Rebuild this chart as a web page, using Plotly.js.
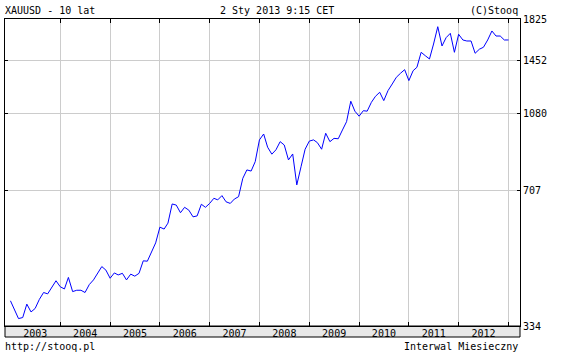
<!DOCTYPE html>
<html>
<head>
<meta charset="utf-8">
<script src="https://cdn.plot.ly/plotly-3.0.1.min.js"></script>
<style>
html,body{margin:0;padding:0;background:#fff;}
#chart{width:568px;height:354px;}
</style>
</head>
<body>
<div id="chart"></div>
<script>
// Monthly closes of XAUUSD (Jan..Dec per year)
const years = ['2003','2004','2005','2006','2007','2008','2009','2010','2011','2012'];
const close2003 = [384, 365, 348, 350, 377, 361, 368, 387, 402, 399, 415, 429];
const close2004 = [415, 410, 437, 404, 407, 407, 402, 420, 431, 448, 464, 455];
const close2005 = [435, 448, 443, 447, 431, 445, 440, 447, 479, 478, 504, 529];
const close2006 = [577, 571, 590, 656, 652, 625, 644, 634, 611, 614, 655, 644];
const close2007 = [658, 677, 671, 687, 664, 658, 674, 683, 756, 792, 787, 829];
const close2008 = [935, 966, 898, 864, 885, 926, 909, 837, 865, 729, 806, 888];
const close2009 = [929, 935, 921, 888, 970, 926, 943, 941, 988, 1034, 1158, 1096];
const close2010 = [1066, 1099, 1096, 1151, 1190, 1217, 1162, 1228, 1274, 1322, 1352, 1379];
const close2011 = [1298, 1371, 1397, 1518, 1490, 1463, 1589, 1749, 1572, 1646, 1686, 1518];
const close2012 = [1677, 1625, 1616, 1616, 1510, 1544, 1561, 1625, 1708, 1661, 1661, 1625];
const close2013 = [1625];
const yTicks = [334, 707, 1080, 1452, 1825];
const yTickText = ['334', '707', '1080', '1452', '1825'];

const byYear = [close2003, close2004, close2005, close2006, close2007, close2008,
                close2009, close2010, close2011, close2012, close2013];
const xs = [], ys = [];
byYear.forEach((arr, k) => {
  const yr = 2003 + k;
  arr.forEach((v, m) => {
    xs.push(yr + '-' + String(m + 1).padStart(2, '0') + '-01');
    ys.push(v);
  });
});

const labelVals = years.map(y => y + '-07-02');
const gridVals = years.map(y => (parseInt(y) + 1) + '-01-01');

const FONT = {family: 'DejaVu Sans Mono, monospace', size: 10, color: '#000'};

const trace = {
  x: xs, y: ys, type: 'scatter', mode: 'lines',
  line: {color: '#0000ff', width: 1},
  hoverinfo: 'skip'
};

const layout = {
  width: 568, height: 354,
  margin: {l: 5, r: 48, t: 19, b: 28, pad: 0},
  paper_bgcolor: '#fff', plot_bgcolor: '#fff',
  showlegend: false,
  font: FONT,
  xaxis: {
    type: 'date',
    range: ['2002-11-22', '2013-03-26'],
    tickmode: 'array', tickvals: labelVals, ticktext: years,
    ticks: '', showgrid: false,
    showline: true, linecolor: '#000', linewidth: 1, mirror: 'ticks',
    tickfont: FONT, ticklabelstandoff: -2,
    zeroline: false, fixedrange: true,
    minor: {
      tickmode: 'array', tickvals: gridVals,
      showgrid: true, gridcolor: '#cccccc', gridwidth: 1,
      ticks: 'inside', ticklen: 4, tickcolor: '#000', tickwidth: 1
    }
  },
  yaxis: {
    type: 'log',
    range: [Math.log10(334), Math.log10(1825)],
    side: 'right',
    tickmode: 'array', tickvals: yTicks, ticktext: yTickText,
    showgrid: true, gridcolor: '#cccccc', gridwidth: 1,
    ticks: 'inside', ticklen: 3, tickcolor: '#000',
    showline: true, linecolor: '#000', linewidth: 1, mirror: 'ticks',
    tickfont: FONT, zeroline: false, fixedrange: true
  },
  shapes: [{
    type: 'rect', xref: 'paper', yref: 'paper',
    x0: 0, x1: 1, y0: -11 / 307, y1: 0,
    fillcolor: '#e8e8e8', line: {color: '#000', width: 1}, layer: 'below'
  }],
  annotations: [
    {text: 'XAUUSD - 10 lat', xref: 'paper', yref: 'paper', x: 0, y: 1 + 8 / 307,
     xanchor: 'left', yanchor: 'middle', showarrow: false, font: FONT, xshift: -2},
    {text: '2 Sty 2013 9:15 CET', xref: 'paper', yref: 'paper', x: 0.529, y: 1 + 8 / 307,
     xanchor: 'center', yanchor: 'middle', showarrow: false, font: FONT},
    {text: '(C)Stooq', xref: 'paper', yref: 'paper', x: 1, y: 1 + 8 / 307,
     xanchor: 'right', yanchor: 'middle', showarrow: false, font: FONT, xshift: 0},
    {text: 'http://stooq.pl', xref: 'paper', yref: 'paper', x: 0, y: -20 / 307,
     xanchor: 'left', yanchor: 'middle', showarrow: false, font: FONT, xshift: -2},
    {text: 'Interwal Miesieczny', xref: 'paper', yref: 'paper', x: 1, y: -20 / 307,
     xanchor: 'right', yanchor: 'middle', showarrow: false, font: FONT, xshift: 0}
  ]
};

Plotly.newPlot('chart', [trace], layout, {staticPlot: true, displayModeBar: false});
</script>
</body>
</html>
